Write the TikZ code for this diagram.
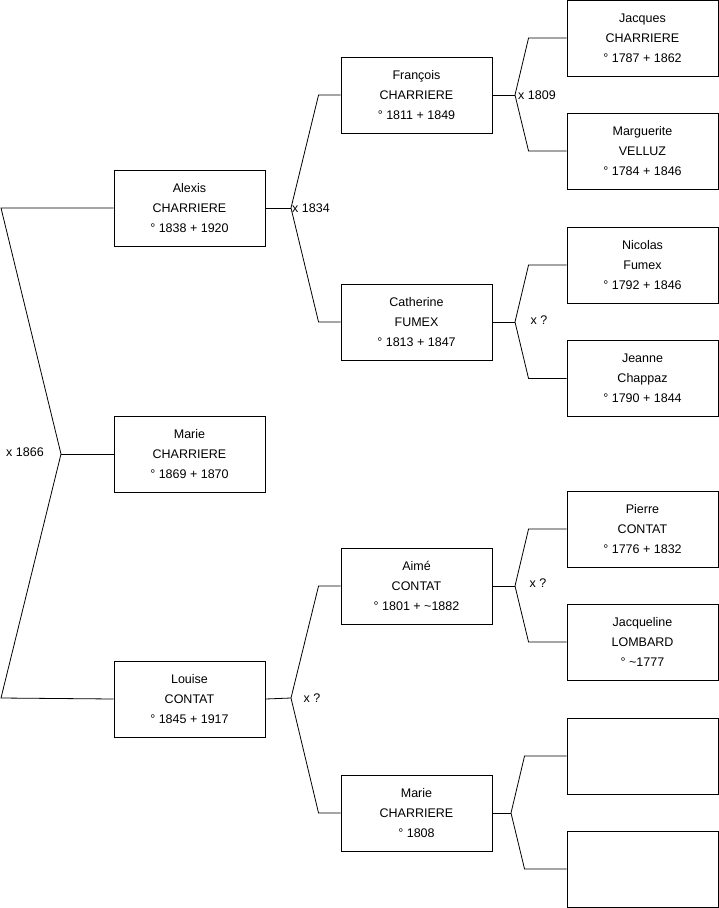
\documentclass[tikz,border=0pt]{standalone}
\usepackage{fontspec}
\setmainfont{Liberation Sans}
\usepackage{tikz}
\usetikzlibrary{calc}

\begin{document}
\begin{tikzpicture}[x=1pt, y=-1pt,
  every node/.style={font=\fontsize{12.5}{20}\selectfont},
  person/.style={draw, line width=0.9pt, minimum width=151pt, minimum height=76pt,
                 align=center, inner sep=0pt},
  link/.style={line width=0.8pt}]

  \useasboundingbox (0,0) rectangle (719,908);

  % ---------- generation 1 ----------
  \node[person] (alexis) at (189.5,208) {Alexis\\CHARRIERE\\° 1838 + 1920};
  \node[person] (marie)  at (189.5,454) {Marie\\CHARRIERE\\° 1869 + 1870};
  \node[person] (louise) at (189.5,699) {Louise\\CONTAT\\° 1845 + 1917};

  % ---------- generation 2 ----------
  \node[person] (francois)  at (416.5,95)  {François\\CHARRIERE\\° 1811 + 1849};
  \node[person] (catherine) at (416.5,322) {Catherine\\FUMEX\\° 1813 + 1847};
  \node[person] (aime)      at (416.5,586) {Aimé\\CONTAT\\° 1801 + \textasciitilde 1882};
  \node[person] (mariec)    at (416.5,813) {Marie\\CHARRIERE\\° 1808};

  % ---------- generation 3 ----------
  \foreach \n/\y/\t in {jacques/38/{Jacques\\CHARRIERE\\° 1787 + 1862},
                        marguerite/151/{Marguerite\\VELLUZ\\° 1784 + 1846},
                        nicolas/265/{Nicolas\\Fumex\\° 1792 + 1846},
                        jeanne/378.5/{Jeanne\\Chappaz\\° 1790 + 1844},
                        pierre/529/{Pierre\\CONTAT\\° 1776 + 1832},
                        jacqueline/642/{Jacqueline\\LOMBARD\\° \textasciitilde 1777},
                        blanka/756/{},
                        blankb/869/{}}{
    \node[person] (\n) at (642.5,\y) {\t};
  }

  % ---------- marriage x 1866 ----------
  \coordinate (m1866) at (61,454);
  \coordinate (t1866) at (1,208);
  \coordinate (b1866) at (1,698);
  \draw[link] (alexis.west) -- (t1866) -- (m1866) -- (b1866) -- (louise.west);
  \draw[link] (marie.west) -- (m1866);
  \node (l1866) at (25,452) {x 1866};

  % ---------- marriage x 1834 ----------
  \coordinate (m1834) at (291,208);
  \draw[link] (alexis.east) -- (m1834);
  \draw[link] (francois.west) -- ++(-22,0) -- (m1834) -- ($(catherine.west)+(-22,0)$) -- (catherine.west);
  \node[anchor=west, inner sep=1pt] (l1834) at (m1834) {x 1834};

  % ---------- marriage x 1809 ----------
  \coordinate (m1809) at (515,95);
  \draw[link] (francois.east) -- (m1809);
  \draw[link] (jacques.west) -- ++(-38,0) -- (m1809) -- ($(marguerite.west)+(-38,0)$) -- (marguerite.west);
  \node[anchor=west, inner sep=3pt] (l1809) at (m1809) {x 1809};

  % ---------- marriage Fumex ----------
  \coordinate (mfumex) at (515,322);
  \draw[link] (catherine.east) -- (mfumex);
  \draw[link] (nicolas.west) -- ++(-38,0) -- (mfumex) -- ($(jeanne.west)+(-38,0)$) -- (jeanne.west);
  \node (lfumex) at (539,320) {x ?};

  % ---------- marriage Contat ----------
  \coordinate (mcontat) at (291,698);
  \draw[link] (louise.east) -- (mcontat);
  \draw[link] (aime.west) -- ++(-22,0) -- (mcontat) -- ($(mariec.west)+(-22,0)$) -- (mariec.west);
  \node (lcontat) at (312,698) {x ?};

  % ---------- marriage Aimé ----------
  \coordinate (maime) at (515,586);
  \draw[link] (aime.east) -- (maime);
  \draw[link] (pierre.west) -- ++(-38,0) -- (maime) -- ($(jacqueline.west)+(-38,0)$) -- (jacqueline.west);
  \node (laime) at (538,583) {x ?};

  % ---------- marriage unknown ----------
  \coordinate (mblank) at (511,813);
  \draw[link] (mariec.east) -- (mblank);
  \draw[link] (blanka.west) -- ++(-42,0) -- (mblank) -- ($(blankb.west)+(-42,0)$) -- (blankb.west);
\end{tikzpicture}
\end{document}
